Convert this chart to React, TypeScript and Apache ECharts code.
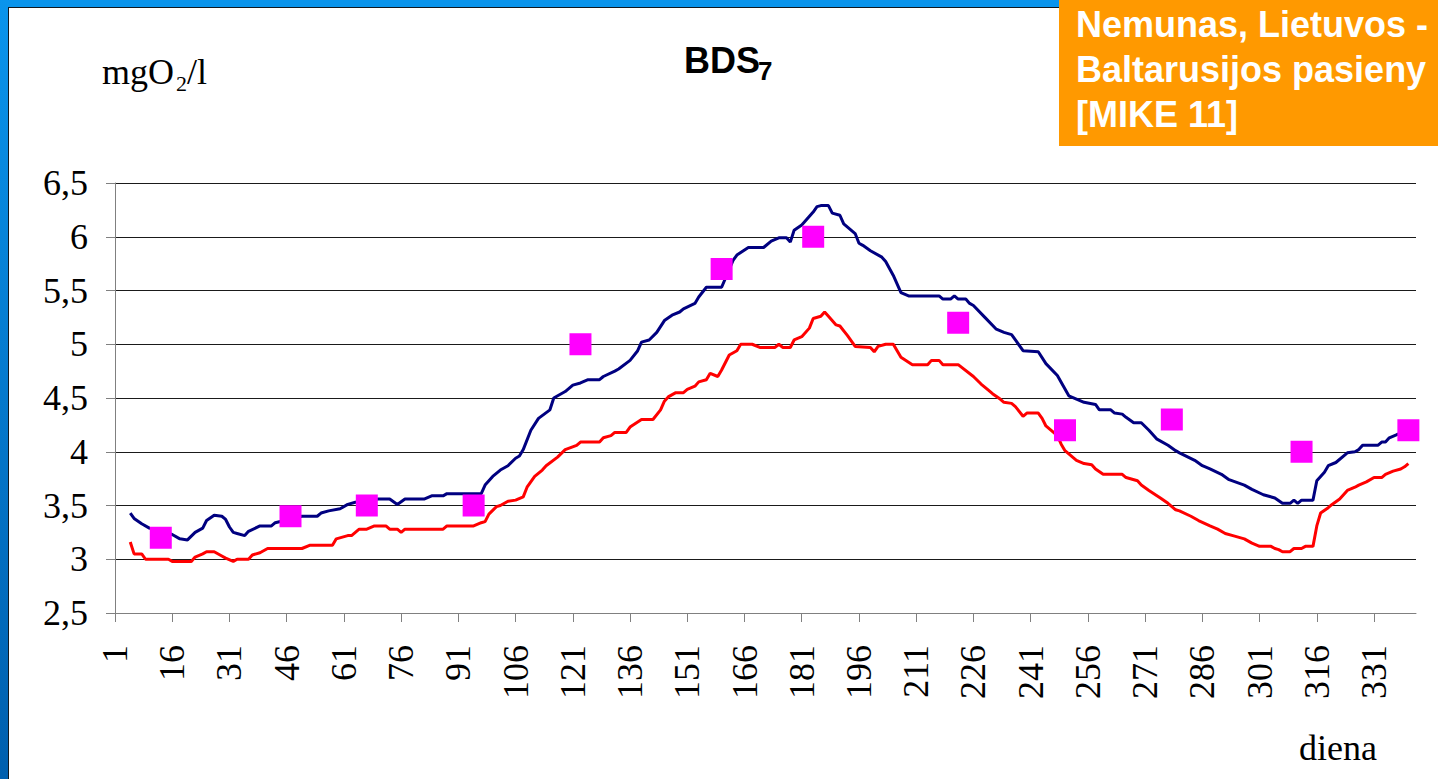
import React, { useEffect, useRef } from "react";
import * as echarts from "echarts";

const N_DAYS = 342;
const dayCategories: string[] = Array.from({ length: N_DAYS }, (_, i) => String(i + 1));
const yTicks = [2.5, 3, 3.5, 4, 4.5, 5, 5.5, 6, 6.5];

// [day, mgO2/l] — upper (navy) model line
const bluePoints: [number, number][] = [
  [5, 3.43], [6, 3.38], [8, 3.33], [10, 3.29], [16, 3.23], [18, 3.19], [20, 3.18], [22, 3.25], [24, 3.29],
  [25, 3.36], [27, 3.41], [29, 3.4], [30, 3.37], [31, 3.3], [32, 3.25], [33, 3.24], [35, 3.22], [36, 3.26],
  [39, 3.31], [42, 3.31], [43, 3.34], [50, 3.4], [54, 3.4], [55, 3.43], [57, 3.45], [60, 3.47], [62, 3.51],
  [64, 3.53], [70, 3.56], [73, 3.56], [75, 3.51], [77, 3.56], [82, 3.56], [84, 3.59], [87, 3.59], [88, 3.61],
  [97, 3.61], [98, 3.69], [100, 3.77], [102, 3.83], [104, 3.87], [106, 3.94], [107, 3.96], [108, 4.02],
  [110, 4.2], [112, 4.31], [115, 4.39], [116, 4.5], [119, 4.56], [121, 4.62], [123, 4.64], [125, 4.67],
  [128, 4.67], [129, 4.7], [132, 4.75], [133, 4.77], [136, 4.85], [138, 4.94], [139, 5.02], [141, 5.04],
  [143, 5.11], [145, 5.22], [147, 5.27], [149, 5.3], [150, 5.33], [153, 5.38], [154, 5.44], [156, 5.53],
  [160, 5.53], [163, 5.78], [164, 5.83], [167, 5.9], [171, 5.9], [173, 5.96], [175, 5.99], [177, 5.99],
  [178, 5.95], [179, 6.06], [181, 6.11], [184, 6.23], [185, 6.28], [186, 6.29], [188, 6.29], [189, 6.22],
  [191, 6.2], [192, 6.12], [195, 6.03], [196, 5.94], [197, 5.92], [199, 5.87], [202, 5.81], [203, 5.77],
  [205, 5.64], [207, 5.48], [209, 5.45], [217, 5.45], [218, 5.42], [220, 5.42], [221, 5.45], [222, 5.42],
  [224, 5.42], [225, 5.38], [226, 5.36], [229, 5.25], [232, 5.14], [234, 5.11], [236, 5.09], [237, 5.04],
  [239, 4.94], [243, 4.93], [245, 4.82], [248, 4.71], [251, 4.52], [253, 4.49], [255, 4.46], [258, 4.44],
  [259, 4.39], [262, 4.39], [263, 4.36], [265, 4.35], [266, 4.32], [268, 4.27], [270, 4.27], [272, 4.2],
  [274, 4.12], [277, 4.06], [279, 4.01], [280, 3.99], [284, 3.92], [286, 3.87], [288, 3.84], [291, 3.79],
  [293, 3.74], [297, 3.69], [299, 3.65], [302, 3.6], [305, 3.57], [307, 3.52], [309, 3.52], [310, 3.55],
  [311, 3.52], [312, 3.55], [315, 3.55], [316, 3.73], [318, 3.81], [319, 3.87], [321, 3.9], [324, 3.99],
  [326, 4.0], [327, 4.02], [328, 4.06], [332, 4.06], [333, 4.09], [334, 4.09], [335, 4.13], [337, 4.16],
  [339, 4.18],
];

// [day, mgO2/l] — lower (red) model line
const redPoints: [number, number][] = [
  [5, 3.16], [6, 3.05], [8, 3.05], [9, 3.0], [15, 3.0], [16, 2.98], [21, 2.98], [22, 3.02], [24, 3.05],
  [25, 3.07], [27, 3.07], [29, 3.03], [30, 3.01], [32, 2.98], [33, 3.0], [36, 3.0], [37, 3.04], [39, 3.06],
  [41, 3.1], [50, 3.1], [52, 3.13], [58, 3.13], [59, 3.19], [62, 3.22], [63, 3.22], [65, 3.28], [67, 3.28],
  [69, 3.31], [72, 3.31], [73, 3.28], [75, 3.28], [76, 3.25], [77, 3.28], [87, 3.28], [88, 3.31], [95, 3.31],
  [97, 3.34], [98, 3.35], [99, 3.42], [101, 3.49], [102, 3.5], [104, 3.54], [106, 3.55], [108, 3.58],
  [109, 3.67], [111, 3.77], [113, 3.83], [114, 3.87], [117, 3.95], [119, 4.02], [122, 4.06], [123, 4.09],
  [128, 4.09], [129, 4.13], [131, 4.15], [132, 4.18], [135, 4.18], [136, 4.23], [139, 4.3], [142, 4.3],
  [144, 4.39], [145, 4.47], [146, 4.51], [148, 4.55], [150, 4.55], [151, 4.58], [153, 4.61], [154, 4.65],
  [156, 4.67], [157, 4.73], [159, 4.7], [160, 4.76], [162, 4.9], [164, 4.94], [165, 5.0], [168, 5.0],
  [170, 4.97], [174, 4.97], [175, 5.0], [176, 4.97], [178, 4.97], [179, 5.04], [181, 5.07], [183, 5.15],
  [184, 5.24], [186, 5.26], [187, 5.3], [188, 5.26], [190, 5.18], [191, 5.17], [193, 5.08], [195, 4.98],
  [199, 4.97], [200, 4.93], [201, 4.98], [203, 5.0], [205, 5.0], [207, 4.88], [210, 4.81], [214, 4.81],
  [215, 4.85], [217, 4.85], [218, 4.81], [222, 4.81], [226, 4.7], [228, 4.63], [230, 4.57], [231, 4.54],
  [233, 4.49], [234, 4.46], [236, 4.45], [237, 4.42], [239, 4.33], [240, 4.36], [243, 4.36], [244, 4.31],
  [245, 4.24], [248, 4.15], [249, 4.07], [250, 4.01], [252, 3.95], [253, 3.92], [255, 3.89], [257, 3.88],
  [258, 3.84], [260, 3.79], [265, 3.79], [266, 3.76], [269, 3.73], [270, 3.69], [272, 3.64], [275, 3.57],
  [277, 3.52], [279, 3.46], [280, 3.45], [283, 3.4], [285, 3.36], [288, 3.31], [290, 3.28], [292, 3.24],
  [294, 3.22], [297, 3.19], [299, 3.15], [301, 3.12], [304, 3.12], [305, 3.1], [306, 3.09], [307, 3.07],
  [309, 3.07], [310, 3.1], [312, 3.1], [313, 3.12], [315, 3.12], [316, 3.31], [317, 3.43], [319, 3.48],
  [320, 3.51], [322, 3.56], [324, 3.64], [326, 3.67], [327, 3.69], [329, 3.72], [331, 3.76], [333, 3.76],
  [334, 3.79], [336, 3.82], [338, 3.84], [339, 3.86], [340, 3.89],
];

// measured values (magenta squares)
const measuredDays = [13, 47, 67, 95, 123, 160, 184, 222, 250, 278, 312, 340];
const measuredVals = [3.2, 3.4, 3.5, 3.5, 5.0, 5.7, 6.0, 5.2, 4.2, 4.3, 4.0, 4.2];

const SERIF = '"Liberation Serif", "Times New Roman", serif';
const SANS = '"Liberation Sans", Arial, sans-serif';

function txt(text: string, x: number, y: number, font: string, fill = "#000", align = "left") {
  return {
    type: "text",
    x,
    y,
    z: 10,
    style: {
      text,
      font,
      fill,
      align,
      verticalAlign: "middle",
      textAlign: align,
      textVerticalAlign: "middle",
    },
  };
}

export default function App() {
  const ref = useRef<HTMLDivElement>(null);
  useEffect(() => {
    if (!ref.current) return;
    const chart = echarts.init(ref.current, null, { renderer: "svg" });
    const toIdx = (pts: [number, number][]) => pts.map(([d, v]) => [d - 1, v]);
    chart.setOption({
      animation: false,
      backgroundColor: "#ffffff",
      grid: { left: 115, right: 22, top: 183, bottom: 166, containLabel: false, outerBoundsMode: "none" },
      xAxis: {
        type: "category",
        data: dayCategories,
        boundaryGap: false,
        axisLine: { show: true, lineStyle: { color: "#808080", width: 1 } },
        axisTick: { show: true, interval: 14, length: 9, lineStyle: { color: "#808080" } },
        axisLabel: {
          interval: 14,
          rotate: 90,
          margin: 32,
          fontFamily: SERIF,
          fontSize: 36,
          color: "#000",
        },
        splitLine: { show: false },
      },
      yAxis: {
        type: "value",
        min: yTicks[0],
        max: yTicks[yTicks.length - 1],
        interval: 0.5,
        axisLine: { show: true, lineStyle: { color: "#808080", width: 1 } },
        axisTick: { show: true, length: 9, lineStyle: { color: "#808080" } },
        axisLabel: {
          margin: 27,
          fontFamily: SERIF,
          fontSize: 36,
          color: "#000",
          formatter: (v: number) => String(v).replace(".", ","),
        },
        splitLine: { show: true, lineStyle: { color: "#1a1a1a", width: 1 } },
      },
      series: [
        {
          type: "line",
          data: toIdx(bluePoints),
          symbol: "none",
          lineStyle: { color: "#000080", width: 3 },
          z: 2,
        },
        {
          type: "line",
          data: toIdx(redPoints),
          symbol: "none",
          lineStyle: { color: "#ff0000", width: 3 },
          z: 2,
        },
        {
          type: "scatter",
          data: measuredDays.map((d, i) => [d - 1, measuredVals[i]]),
          symbol: "rect",
          symbolSize: 22,
          itemStyle: { color: "#ff00ff", opacity: 1 },
          z: 3,
        },
      ],
      graphic: [
        {
          type: "rect",
          z: 5,
          shape: { x: 0, y: 0, width: 1059, height: 7 },
          style: { fill: "#0a94ec" },
        },
        {
          type: "rect",
          z: 5,
          shape: { x: 0, y: 0, width: 8, height: 779 },
          style: {
            fill: {
              type: "linear",
              x: 0, y: 0, x2: 0, y2: 1,
              colorStops: [
                { offset: 0, color: "#0a94ec" },
                { offset: 1, color: "#005fae" },
              ],
            },
          },
        },
        {
          type: "line",
          z: 6,
          shape: { x1: 8, y1: 7.5, x2: 1059, y2: 7.5 },
          style: { stroke: "#101820", lineWidth: 1 },
        },
        {
          type: "line",
          z: 6,
          shape: { x1: 8.5, y1: 7, x2: 8.5, y2: 779 },
          style: { stroke: "#101820", lineWidth: 1 },
        },
        {
          type: "rect",
          z: 5,
          shape: { x: 1059, y: 0, width: 379, height: 146 },
          style: { fill: "#ff9900" },
        },
        txt("Nemunas, Lietuvos -", 1076, 24.5, `bold 36px ${SANS}`, "#ffffff"),
        txt("Baltarusijos pasieny", 1076, 69.5, `bold 36px ${SANS}`, "#ffffff"),
        txt("[MIKE 11]", 1076, 114.5, `bold 36px ${SANS}`, "#ffffff"),
        txt("BDS", 684, 60, `bold 36px ${SANS}`),
        txt("7", 758, 70.5, `bold 26px ${SANS}`),
        txt("mgO", 102, 72, `36px ${SERIF}`),
        txt("2", 176, 83, `22px ${SERIF}`),
        txt("/l", 187, 72, `36px ${SERIF}`),
        txt("diena", 1299, 748, `36px ${SERIF}`),
      ],
    });
    return () => chart.dispose();
  }, []);
  return (
    <div
      ref={ref}
      style={{ position: "fixed", left: 0, top: 0, width: 1438, height: 779, background: "#fff" }}
    />
  );
}
